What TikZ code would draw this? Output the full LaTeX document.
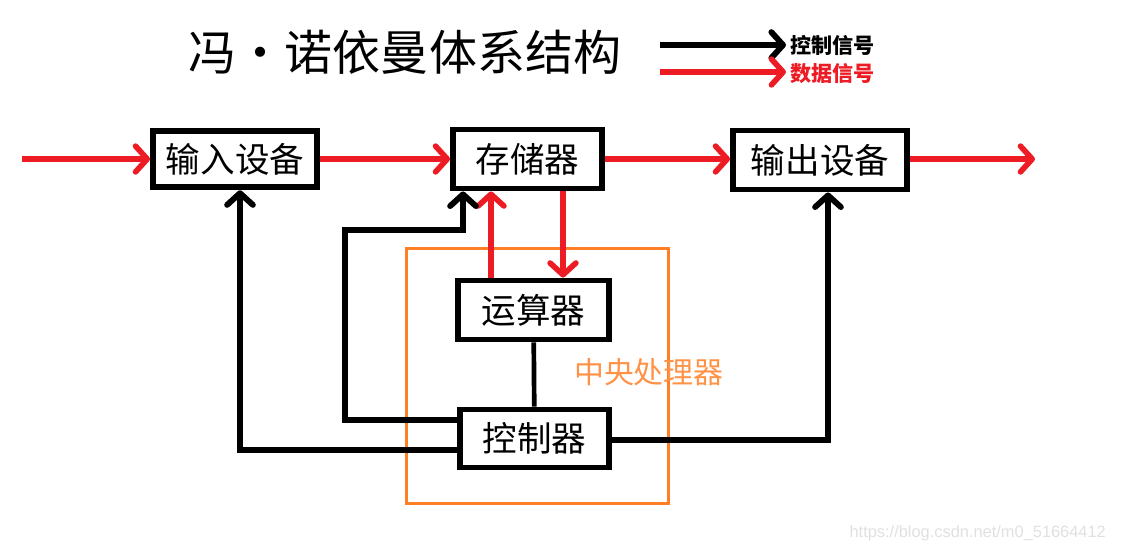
\documentclass[tikz,border=0pt]{standalone}
\usepackage{fontspec}
\setmainfont{Liberation Sans}
\newfontfamily\cjk{Noto Sans CJK SC}
\usetikzlibrary{
  arrows.meta,
  positioning,
  calc
}
\usepackage{xcolor}
\definecolor{vnred}{HTML}{ED1C24}
\definecolor{vnorange}{HTML}{FF7F27}
\definecolor{vnblack}{HTML}{000000}

\begin{document}
\begin{tikzpicture}[
  x=0.03cm, y=-0.03cm,
  box/.style={draw=vnblack, line width=5pt, fill=white, inner sep=0pt,
    font=\cjk\fontsize{29.5}{32}\selectfont},
  data/.style={vnred, line width=4.8pt, -{Straight Barb[length=10pt,width=22pt,round]}},
  ctrl/.style={vnblack, line width=5pt, -{Straight Barb[length=10pt,width=22pt,round]}},
  wire/.style={vnblack, line width=4pt}
]
  \useasboundingbox (0,0) rectangle (1136,553);

  % Title
  \node[font=\cjk\fontsize{41}{44}\selectfont] (title) at (405,52) {冯·诺依曼体系结构};

  % Legend
  \coordinate (lgc) at (660,45);
  \coordinate (lgd) at (660,72);
  \node[anchor=west, font=\cjk\bfseries\fontsize{18}{20}\selectfont] (lgctext) at (786,45) {控制信号};
  \node[anchor=west, text=vnred, font=\cjk\bfseries\fontsize{18}{20}\selectfont] (lgdtext) at (786,74) {数据信号};
  \draw[ctrl] (lgc) -- (lgctext.west);
  \draw[data] (lgd) -- (lgd -| lgdtext.west);

  % CPU frame
  \node[draw=vnorange, line width=2.5pt, minimum width=7.85cm, minimum height=7.65cm]
    (cpu) at (537.5,376) {};

  % Input box
  \node[box, minimum width=4.92cm, minimum height=1.7cm] (in) at (235,159) {输入设备};

  % Memory box
  \node[box, minimum width=4.47cm, minimum height=1.77cm] (mem) at (527.5,159) {存储器};

  % Output box
  \node[box, minimum width=5.22cm, minimum height=1.77cm] (out) at (820,160) {输出设备};

  % ALU box
  \node[box, minimum width=4.53cm, minimum height=1.77cm] (alu) at (533.5,310) {运算器};

  % Control box
  \node[box, minimum width=4.47cm, minimum height=1.74cm] (ctl) at (534.5,438.5) {控制器};

  % CPU label
  \node[anchor=west, text=vnorange!85, font=\cjk\fontsize{25.5}{28}\selectfont] (cpulabel) at (570,372) {中央处理器};

  % Data arrows
  \coordinate (src) at (22,159);
  \coordinate (sink) at (1035,159);
  \draw[data] (src) -- (in.west);
  \draw[data] (in.east) -- (mem.west);
  \draw[data] (mem.east) -- (out.west |- mem.east);
  \draw[data] (out.east |- sink) -- (sink);
  \draw[data] (alu.north -| 491,0) -- (mem.south -| 491,0);
  \draw[data] (mem.south -| 563,0) -- (alu.north -| 563,0);

  % Control arrows
  \coordinate (k1) at (345,230);
  \coordinate (k2) at (828,440);
  \draw[wire] (alu) -- (ctl);
  \draw[ctrl] (ctl.west |- 0,420) -| (k1) -| (mem.south -| 463,0);
  \draw[ctrl] (ctl.west |- 0,450) -| (in.south -| 240,0);
  \draw[ctrl] (ctl.east |- k2) -- (k2) -- (k2 |- out.south);

  % Watermark
  \node[anchor=east, text=black!12, font=\fontsize{14}{16}\selectfont] (mark) at (1110,533) {https://blog.csdn.net/m0\_51664412};
\end{tikzpicture}
\end{document}
